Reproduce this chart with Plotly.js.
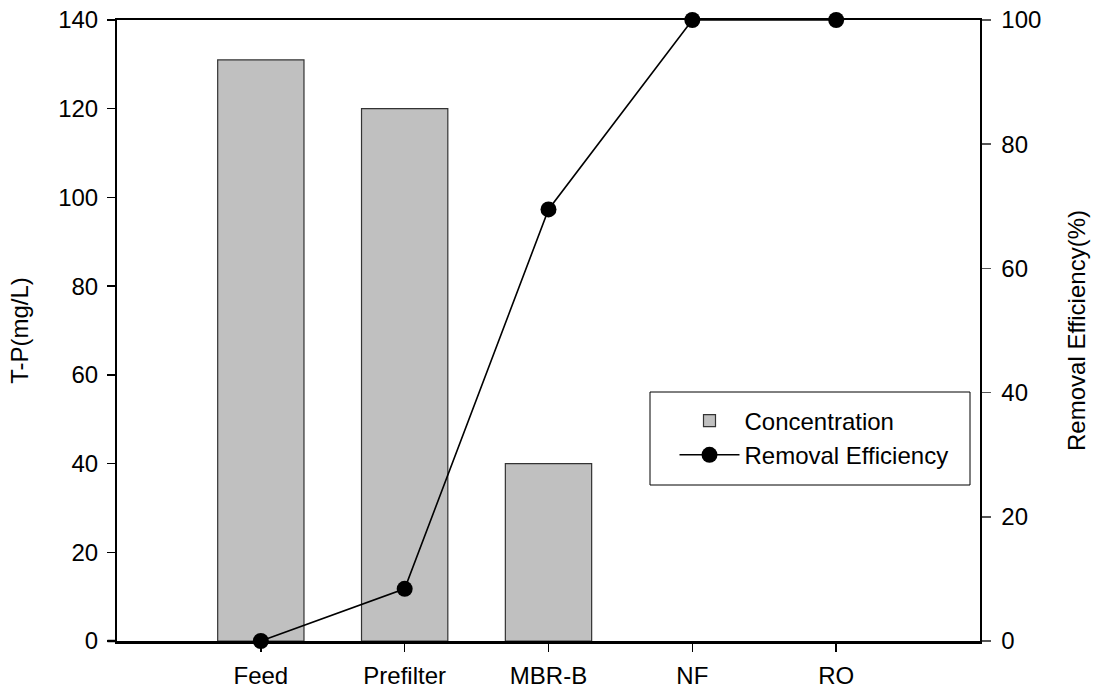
<!DOCTYPE html>
<html>
<head>
<meta charset="utf-8">
<script src="https://cdn.plot.ly/plotly-3.0.1.min.js"></script>
<style>html,body{margin:0;padding:0;background:#fff;}#chart{width:1099px;height:691px;}</style>
</head>
<body>
<div id="chart"></div>
<script>
var categories = ["Feed", "Prefilter", "MBR-B", "NF", "RO"];
var concentration = [131, 120, 40, 0, 0];
var removalEfficiency = [0, 8.4, 69.5, 100, 100];
var leftTicks = [0, 20, 40, 60, 80, 100, 120, 140];
var rightTicks = [0, 20, 40, 60, 80, 100];

var FONT = "Liberation Sans, Arial, sans-serif";
var FS = 24;

var traces = [
  {
    type: "bar",
    name: "Concentration",
    x: categories,
    y: concentration,
    width: 0.6,
    marker: {color: "#c0c0c0", line: {color: "#333333", width: concentration.map(function(v){return v > 0 ? 1.2 : 0;})}},
    yaxis: "y"
  },
  {
    type: "scatter",
    mode: "lines+markers",
    name: "Removal Efficiency",
    x: categories,
    y: removalEfficiency,
    yaxis: "y2",
    line: {color: "#000", width: 1.6},
    marker: {color: "#000", size: 16},
    cliponaxis: false
  }
];

var layout = {
  width: 1099,
  height: 691,
  margin: {l: 117, r: 119, t: 20, b: 50, pad: 0},
  paper_bgcolor: "#fff",
  plot_bgcolor: "#fff",
  font: {family: FONT, size: FS, color: "#000"},
  showlegend: true,
  legend: {
    x: 0.646, y: 0.3905, xanchor: "left", yanchor: "top",
    bgcolor: "rgba(0,0,0,0)", borderwidth: 0,
    itemwidth: 60,
    font: {family: FONT, size: FS, color: "#000"},
    tracegroupgap: 0
  },
  xaxis: {
    type: "category",
    categoryorder: "array",
    categoryarray: categories,
    range: [-1, 5],
    showgrid: false, zeroline: false,
    showline: true, linecolor: "#000", linewidth: 2.5,
    mirror: true,
    ticks: "outside", ticklen: 8, tickwidth: 1.5, tickcolor: "#000",
    ticklabelstandoff: 4,
    tickfont: {family: FONT, size: FS, color: "#000"},
    automargin: false,
    fixedrange: true
  },
  yaxis: {
    range: [0, 140],
    tickvals: leftTicks,
    showgrid: false, zeroline: false,
    showline: true, linecolor: "#000", linewidth: 2,
    ticks: "outside", ticklen: 8, tickwidth: 1.5, tickcolor: "#000",
    ticklabelstandoff: 4,
    tickfont: {family: FONT, size: FS, color: "#000"},
    title: {text: "T-P(mg/L)", font: {family: FONT, size: FS, color: "#000"}, standoff: 23},
    automargin: false,
    fixedrange: true
  },
  yaxis2: {
    range: [0, 100],
    tickvals: rightTicks,
    overlaying: "y",
    side: "right",
    showgrid: false, zeroline: false,
    showline: true, linecolor: "#000", linewidth: 1.5,
    ticks: "outside", ticklen: 9, tickwidth: 1.5, tickcolor: "#555",
    ticklabelstandoff: 6,
    tickfont: {family: FONT, size: FS, color: "#000"},
    title: {text: "Removal Efficiency(%)", font: {family: FONT, size: FS, color: "#000"}, standoff: 28},
    automargin: false,
    fixedrange: true
  },
  shapes: [
    {type: "line", xref: "paper", yref: "paper", x0: -0.011, x1: 0, y0: 0, y1: 0,
     line: {color: "#000", width: 2.5}},
    {type: "rect", xref: "paper", yref: "paper",
     x0: (650 - 117) / 863, x1: (970 - 117) / 863,
     y0: (641 - 485) / 621, y1: (641 - 392) / 621,
     line: {color: "#000", width: 1}, fillcolor: "rgba(0,0,0,0)", layer: "above"}
  ]
};

Plotly.newPlot("chart", traces, layout, {displayModeBar: false, staticPlot: true});
</script>
</body>
</html>
